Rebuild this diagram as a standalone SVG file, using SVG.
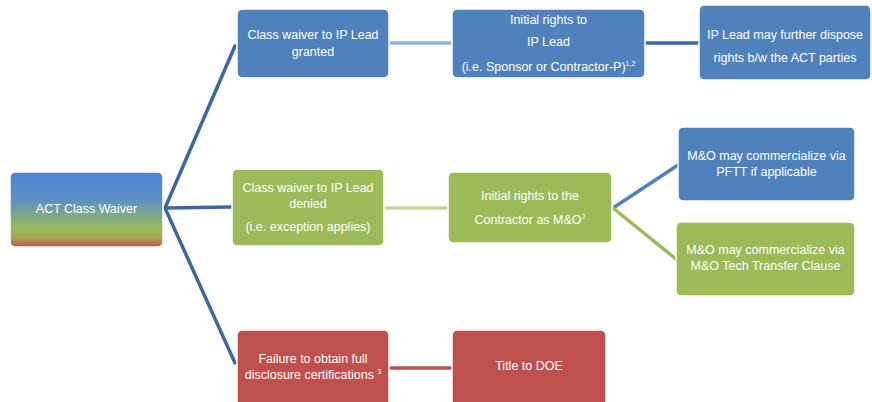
<svg xmlns="http://www.w3.org/2000/svg" width="872" height="402" viewBox="0 0 872 402">
<defs>
<linearGradient id="rootGrad" x1="0" y1="0" x2="0" y2="1">
<stop offset="0" stop-color="#4f86d4"/>
<stop offset="0.35" stop-color="#5a8ec8"/>
<stop offset="0.58" stop-color="#7fa98a"/>
<stop offset="0.76" stop-color="#9bbb59"/>
<stop offset="0.88" stop-color="#a9a455"/>
<stop offset="1" stop-color="#c0504d"/>
</linearGradient>
</defs>
<style>
.box{stroke:#ffffff;stroke-width:1.5}
.blue{fill:#4f81bd}
.green{fill:#9bbb59}
.red{fill:#c0504d}
text{font-family:"Liberation Sans",Arial,sans-serif;font-size:12.5px;fill:#ffffff;text-anchor:middle}
.c{fill:none;stroke-width:3.5;stroke-linecap:round}
</style>
<rect width="872" height="402" fill="#ffffff"/>
<g id="connectors">
<line class="c" x1="165" y1="208" x2="235" y2="46" stroke="#3b67a5"/>
<line class="c" x1="165" y1="208" x2="231" y2="207" stroke="#3b67a5"/>
<line class="c" x1="165" y1="208" x2="235" y2="363" stroke="#3b67a5"/>
<line class="c" x1="390" y1="43" x2="452" y2="43" stroke="#8db3e2"/>
<line class="c" x1="645" y1="43" x2="699" y2="43" stroke="#3b67a5"/>
<line class="c" x1="385" y1="208" x2="448" y2="208" stroke="#c3d69b"/>
<line class="c" x1="613" y1="208" x2="678" y2="165" stroke="#4f81bd"/>
<line class="c" x1="613" y1="208" x2="676" y2="259" stroke="#9bbb59"/>
<line class="c" x1="390" y1="368" x2="452" y2="368" stroke="#c0504d"/>
</g>
<g id="root">
<rect class="box" x="10" y="172" width="153" height="75" rx="5" fill="url(#rootGrad)"/>
<text x="86.5" y="213">ACT Class Waiver</text>
</g>
<g id="granted">
<rect class="box blue" x="237" y="9" width="152" height="69" rx="5"/>
<text x="313" y="39">Class waiver to IP Lead</text>
<text x="313" y="56">granted</text>
</g>
<g id="initial-ip">
<rect class="box blue" x="452" y="9" width="193" height="69" rx="5"/>
<text x="548.5" y="24">Initial rights to</text>
<text x="548.5" y="46">IP Lead</text>
<text x="548.5" y="71">(i.e. Sponsor or Contractor-P)<tspan font-size="7" dy="-5">1,2</tspan></text>
</g>
<g id="dispose">
<rect class="box blue" x="699" y="5" width="172" height="75" rx="5"/>
<text x="785" y="39">IP Lead may further dispose</text>
<text x="785" y="62">rights b/w the ACT parties</text>
</g>
<g id="denied">
<rect class="box green" x="232" y="169" width="152" height="77" rx="5"/>
<text x="308" y="192">Class waiver  to IP Lead</text>
<text x="308" y="208">denied</text>
<text x="308" y="231">(i.e. exception applies)</text>
</g>
<g id="initial-mo">
<rect class="box green" x="448" y="172" width="164" height="71" rx="5"/>
<text x="530" y="200">Initial rights to the</text>
<text x="530" y="224">Contractor as M&amp;O<tspan font-size="7" dy="-5">2</tspan></text>
</g>
<g id="pftt">
<rect class="box blue" x="678" y="127" width="177" height="74" rx="5"/>
<text x="766.5" y="160">M&amp;O may commercialize via</text>
<text x="766.5" y="176">PFTT if applicable</text>
</g>
<g id="techtransfer">
<rect class="box green" x="676" y="222" width="179" height="74" rx="5"/>
<text x="765.5" y="254">M&amp;O may commercialize via</text>
<text x="765.5" y="270">M&amp;O Tech Transfer Clause</text>
</g>
<g id="failure">
<rect class="box red" x="237" y="330" width="152" height="80" rx="5"/>
<text x="313" y="363">Failure to obtain full</text>
<text x="313" y="379">disclosure certifications <tspan font-size="7" dy="-5">3</tspan></text>
</g>
<g id="title">
<rect class="box red" x="452" y="330" width="154" height="80" rx="5"/>
<text x="529" y="370">Title to DOE</text>
</g>
</svg>
